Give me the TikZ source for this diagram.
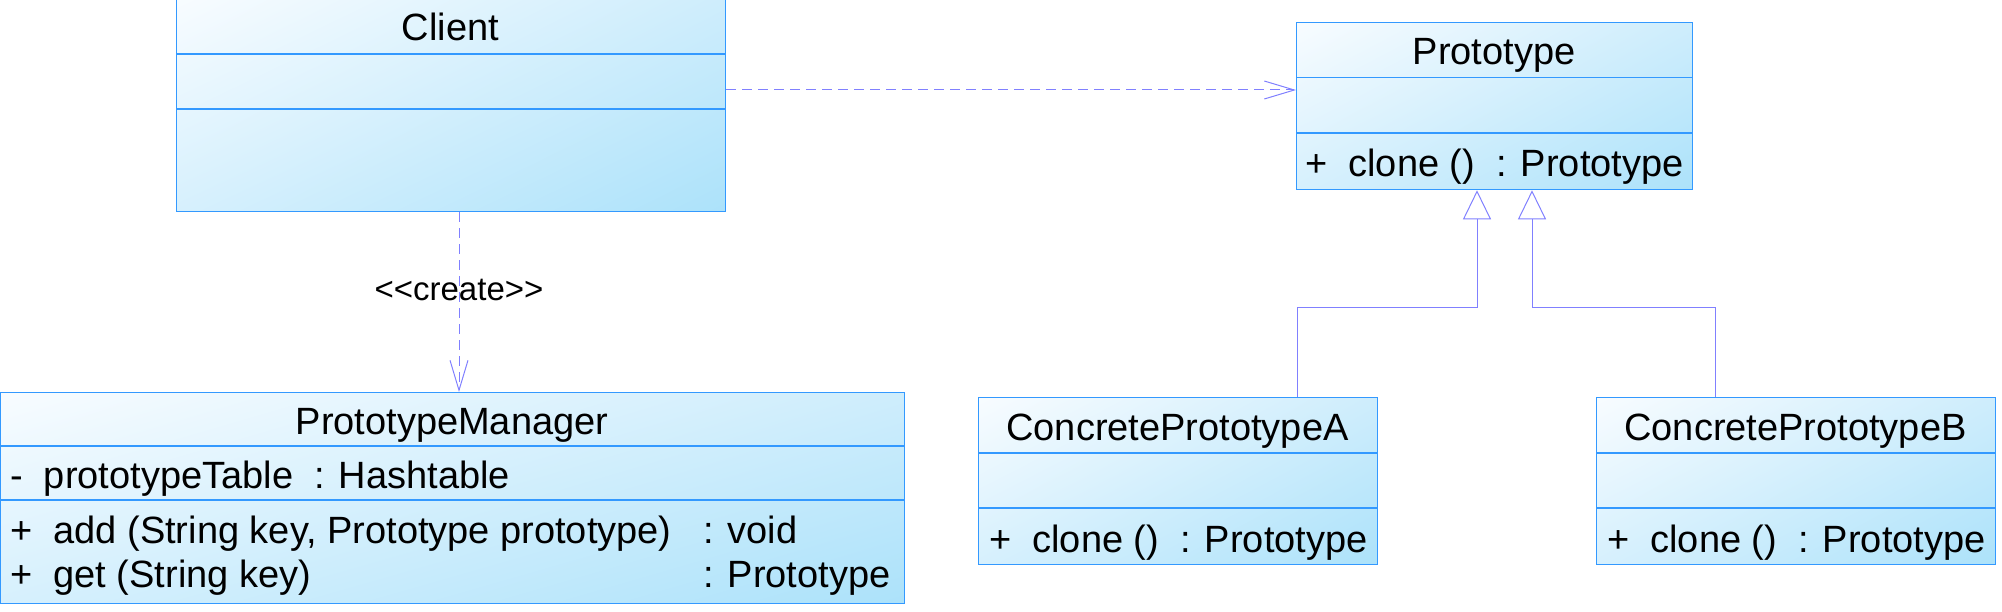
\documentclass[tikz,border=0pt]{standalone}
\usepackage{fontspec}
\setmainfont{Liberation Sans}
\usetikzlibrary{arrows.meta, shadings}

\definecolor{umlBorder}{RGB}{51,153,255}
\definecolor{umlUL}{RGB}{248,252,255}
\definecolor{umlUR}{RGB}{206,237,252}
\definecolor{umlLL}{RGB}{214,240,253}
\definecolor{umlLR}{RGB}{172,226,250}
\definecolor{umlLine}{RGB}{128,128,255}

\begin{document}
\begin{tikzpicture}[x=1pt, y=-1pt,
    classbox/.style={draw=umlBorder, line width=1.3pt, shading=bilinear interpolation, upper left=umlUL, upper right=umlUR, lower left=umlLL, lower right=umlLR, anchor=north west, inner sep=0pt},
    divider/.style={draw=umlBorder, line width=1.3pt},
    classname/.style={anchor=base, inner sep=0pt, font=\fontsize{38}{44}\selectfont},
    member/.style={anchor=base west, inner sep=0pt, font=\fontsize{38}{44}\selectfont},
    depend/.style={draw=umlLine, line width=1pt, dash pattern=on 10pt off 6pt, -{Straight Barb[length=30pt, width=18pt]}},
    inherit/.style={draw=umlLine, line width=1pt, -{Triangle[open, length=29pt, width=28pt]}}]
\useasboundingbox (0,0) rectangle (2002,612);

% class boxes
\node[classbox, minimum width=549pt, minimum height=213pt] (client) at (176,-2) {};
\node[classbox, minimum width=396pt, minimum height=167pt] (proto) at (1296,22) {};
\node[classbox, minimum width=904pt, minimum height=211pt] (manager) at (0,392) {};
\node[classbox, minimum width=399pt, minimum height=167pt] (concA) at (978,397) {};
\node[classbox, minimum width=399pt, minimum height=167pt] (concB) at (1596,397) {};

% compartments
\foreach \n/\a/\b in {client/54/109, proto/77.5/133, manager/446/500, concA/453/508, concB/453/508} {
    \draw[divider] (\n.west |- 0,\a) -- (\n.east |- 0,\a);
    \draw[divider] (\n.west |- 0,\b) -- (\n.east |- 0,\b);
}

% names and members
\node[classname] (client-name) at (450.5,41) {Client};
\node[classname] (proto-name) at (1494,65) {Prototype};
\node[member] (proto-clone) at (1305,176.5) {+~~clone ()~~: Prototype};
\node[classname] (manager-name) at (452,434) {PrototypeManager};
\node[member] (manager-table) at (10,488) {-~~prototypeTable~~: Hashtable};
\node[member] (manager-add) at (10,543) {+~~add (String key, Prototype prototype)};
\node[member] (manager-addtype) at (703,543) {: void};
\node[member] (manager-get) at (10,587) {+~~get (String key)};
\node[member] (manager-gettype) at (703,587) {: Prototype};
\node[classname] (concA-name) at (1177.5,440) {ConcretePrototypeA};
\node[member] (concA-clone) at (989,552) {+~~clone ()~~: Prototype};
\node[classname] (concB-name) at (1795.5,440) {ConcretePrototypeB};
\node[member] (concB-clone) at (1607,552) {+~~clone ()~~: Prototype};

% relations
\draw[depend] (client.east |- 0,90) -- (proto.west |- 0,90);
\draw[depend] (client.south -| 459,0) -- (manager.north -| 459,0)
    node[pos=0.49, anchor=base, inner sep=0pt, font=\fontsize{33}{38}\selectfont] (create) {<\kern0pt<create>\kern0pt>};
\draw[inherit] (concA.north -| 1297,0) -- (1297,307) -| (proto.south -| 1477,0);
\draw[inherit] (concB.north -| 1715,0) -- (1715,307) -| (proto.south -| 1532,0);
\end{tikzpicture}
\end{document}
